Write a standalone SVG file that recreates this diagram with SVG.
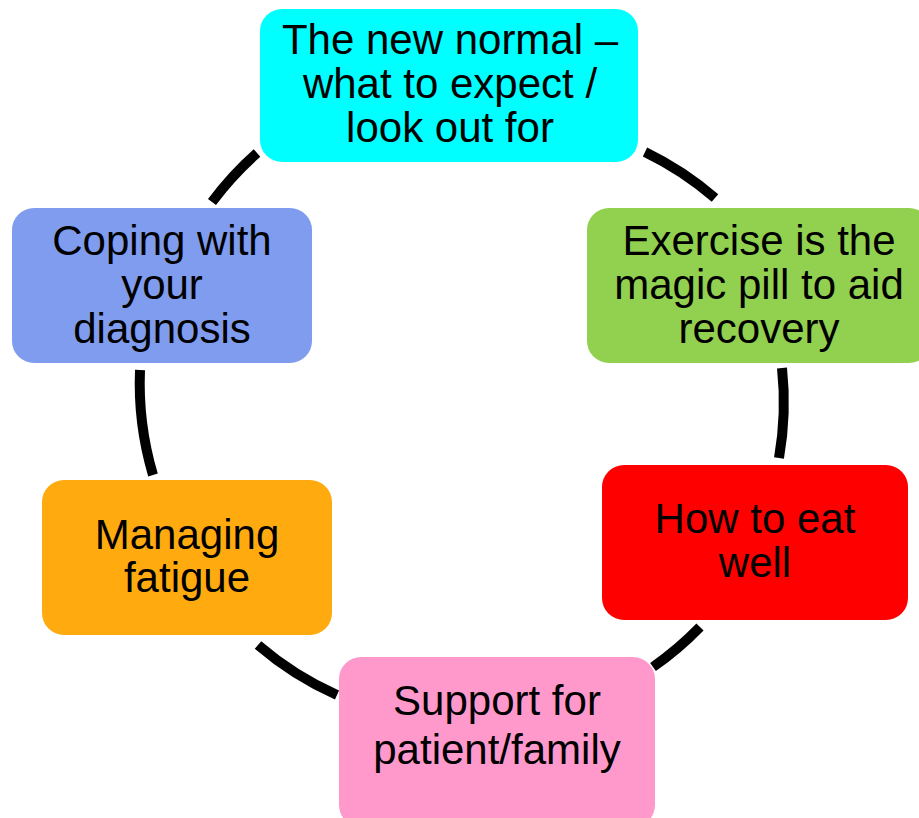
<svg xmlns="http://www.w3.org/2000/svg" width="919" height="818" viewBox="0 0 919 818">
<style>
.box{stroke:none}
.lbl{font-family:"Liberation Sans",Arial,sans-serif;font-size:42px;fill:#000;text-anchor:middle}
.arc{fill:none;stroke:#000;stroke-width:10}
</style>
<rect width="919" height="818" fill="#fff"/>
<g id="connectors">
<path class="arc" d="M212,202 A322,322 0 0 1 257,153"/>
<path class="arc" d="M645,152 A322,322 0 0 1 715,198"/>
<path class="arc" d="M782,368 A322,322 0 0 1 779,458"/>
<path class="arc" d="M700,627 A322,322 0 0 1 653,667"/>
<path class="arc" d="M337,695 A322,322 0 0 1 258,645"/>
<path class="arc" d="M153,475 A322,322 0 0 1 140,370"/>
</g>
<g id="node-new-normal">
<rect class="box" x="260" y="9" width="378" height="153" rx="22" fill="#00FFFF"/>
<text class="lbl" x="450" y="54">The new normal –</text>
<text class="lbl" x="450" y="98">what to expect /</text>
<text class="lbl" x="450" y="142">look out for</text>
</g>
<g id="node-exercise">
<rect class="box" x="587" y="208" width="344" height="155" rx="22" fill="#92D050"/>
<text class="lbl" x="759" y="255">Exercise is the</text>
<text class="lbl" x="759" y="299">magic pill to aid</text>
<text class="lbl" x="759" y="343">recovery</text>
</g>
<g id="node-eat-well">
<rect class="box" x="602" y="465" width="306" height="155" rx="22" fill="#FF0000"/>
<text class="lbl" x="755" y="533">How to eat</text>
<text class="lbl" x="755" y="577">well</text>
</g>
<g id="node-support">
<rect class="box" x="339" y="657" width="316" height="170" rx="22" fill="#FF99CC"/>
<text class="lbl" x="497" y="715">Support for</text>
<text class="lbl" x="497" y="764">patient/family</text>
</g>
<g id="node-fatigue">
<rect class="box" x="42" y="480" width="290" height="155" rx="22" fill="#FFAB10"/>
<text class="lbl" x="187" y="549">Managing</text>
<text class="lbl" x="187" y="592">fatigue</text>
</g>
<g id="node-coping">
<rect class="box" x="12" y="208" width="300" height="155" rx="22" fill="#7F9CEE"/>
<text class="lbl" x="162" y="255">Coping with</text>
<text class="lbl" x="162" y="299">your</text>
<text class="lbl" x="162" y="343">diagnosis</text>
</g>
</svg>
